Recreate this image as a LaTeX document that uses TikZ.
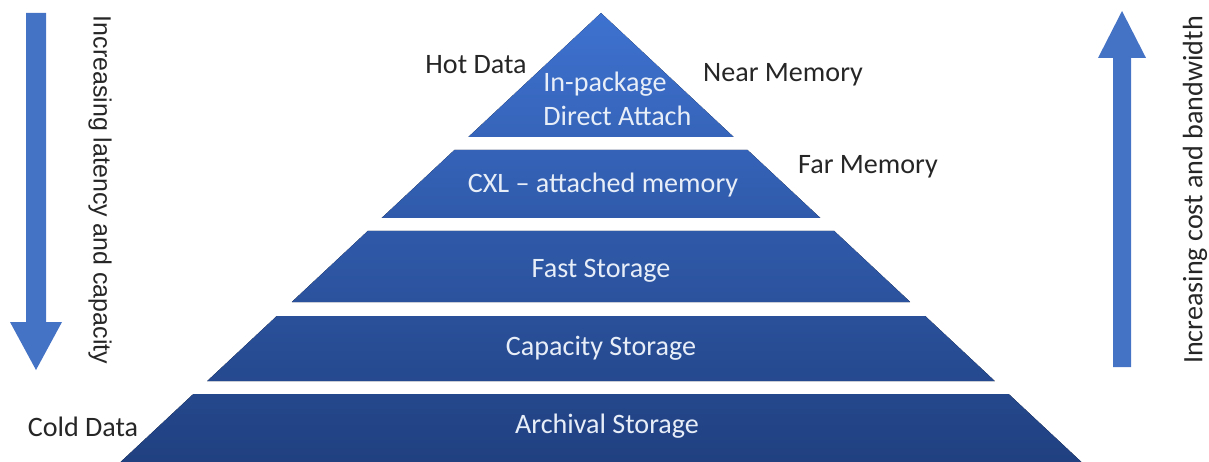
\documentclass[tikz,border=0pt]{standalone}
\usepackage{fontspec}
\setmainfont{Carlito}
\newfontfamily\arialfont{Liberation Sans}
\usetikzlibrary{positioning}
\definecolor{pyrtop}{RGB}{62,114,208}
\definecolor{pyrbot}{RGB}{32,64,128}
\definecolor{arrowblue}{RGB}{68,114,196}
\definecolor{labelgray}{RGB}{38,38,38}
\definecolor{layertext}{RGB}{232,238,248}
% one slice of the pyramid: #1 top y, #2 bottom y, #3/#4 share of top colour
\newcommand{\slice}[4]{
\fill[top color=pyrtop!#3!pyrbot,bottom color=pyrtop!#4!pyrbot]
 ({601-1.07*(#1-13)},#1) -- ({601+1.07*(#1-13)},#1) -- ({601+1.07*(#2-13)},#2) -- ({601-1.07*(#2-13)},#2) -- cycle;
}

\begin{document}
\begin{tikzpicture}[x=0.02cm,y=-0.02cm,
 layerlabel/.style={text=layertext,font=\fontsize{16}{19}\selectfont,inner sep=0},
 sidelabel/.style={text=labelgray,font=\fontsize{16}{19}\selectfont,inner sep=0}]

\useasboundingbox (0,0) rectangle (1209,462);

% pyramid
\slice{13}{137}{100}{72}
\slice{150}{218}{69}{54}
\slice{231}{302}{51}{36}
\slice{316}{381}{33}{18}
\slice{394}{462}{15}{0}

% layer texts
\node[layerlabel,align=left,anchor=west] (inpkg) at (543,99) {In-package\\[0.5pt]Direct Attach};
\node[layerlabel] (cxl) at (603,185) {CXL -- attached memory};
\node[layerlabel] (fast) at (601,271) {Fast Storage};
\node[layerlabel] (capacity) at (601,348) {Capacity Storage};
\node[layerlabel] (archival) at (607,426) {Archival Storage};

% side texts
\node[sidelabel] (hot) at (476,65) {Hot Data};
\node[sidelabel] (near) at (783,75) {Near Memory};
\node[sidelabel] (far) at (868,167) {Far Memory};
\node[sidelabel] (cold) at (83,427) {Cold Data};

% arrows
\fill[arrowblue] (26,13) -- (46,13) -- (46,322) -- (62,322) -- (36,370) -- (10,322) -- (26,322) -- cycle;
\fill[arrowblue] (1113,367) -- (1131,367) -- (1131,58) -- (1146,58) -- (1122,11) -- (1098,58) -- (1113,58) -- cycle;
\node[sidelabel,font=\arialfont\fontsize{14.2}{17}\selectfont,rotate=-90] (latency) at (100,190) {Increasing latency and capacity};
\node[sidelabel,rotate=90] (cost) at (1195,190) {Increasing cost and bandwidth};

\end{tikzpicture}
\end{document}
